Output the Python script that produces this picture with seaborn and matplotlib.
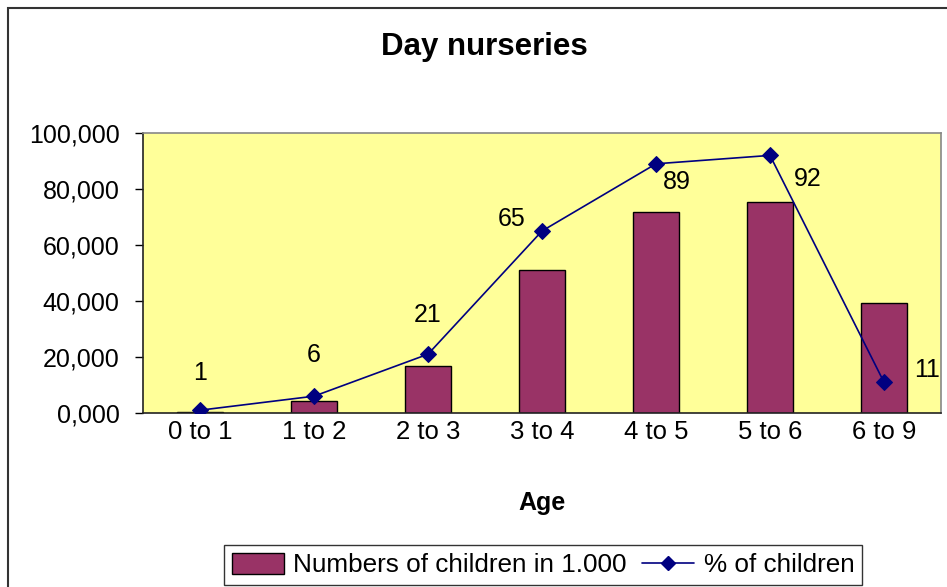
import matplotlib
matplotlib.use("Agg")
import matplotlib.pyplot as plt
import seaborn as sns
import numpy as np
import pandas as pd
from matplotlib.patches import Rectangle
from matplotlib.lines import Line2D
from matplotlib.patches import Patch

# ---- data ----
ages = ["0 to 1", "1 to 2", "2 to 3", "3 to 4", "4 to 5", "5 to 6", "6 to 9"]
children = [500, 4300, 16800, 51000, 71800, 75400, 39200]
pct_children = [1, 6, 21, 65, 89, 92, 11]
y_ticks = [0, 20000, 40000, 60000, 80000, 100000]
y_tick_labels = ["0,000", "20,000", "40,000", "60,000", "80,000", "100,000"]
title = "Day nurseries"
x_label = "Age"
bar_label = "Numbers of children in 1.000"
line_label = "% of children"

# label offsets (points) for data labels
label_offsets = [(0, 27), (0, 30), (0, 28), (-22, 9), (15, -13), (27, -17), (31, 9)]

sns.set_theme(style="white")
plt.rcParams['font.family'] = ['Liberation Sans', 'DejaVu Sans']

FS = 18
fig = plt.figure(figsize=(9.47, 5.87), dpi=100)
ax = fig.add_axes([143/947, 1-413/587, (941-143)/947, (413-133)/587])

df = pd.DataFrame({"Age": ages, "Children": children, "Pct": pct_children})

sns.barplot(data=df, x="Age", y="Children", ax=ax, color="#993366",
            saturation=1, width=0.41, edgecolor="black", linewidth=1.0)
ax.set_facecolor("#FFFF99")
ax.set_ylim(0, 100000)
ax.set_xlim(-0.5, len(ages) - 0.5)
ax.set_yticks(y_ticks)
ax.set_yticklabels(y_tick_labels, fontsize=FS, color="black")
ax.set_xticks(np.arange(len(ages)))
ax.set_xticklabels(ages, fontsize=FS + 0.5, color="black")
ax.set_xlabel(x_label, fontsize=FS, fontweight="bold", labelpad=34, color="black")
ax.set_ylabel("")
ax.tick_params(axis="x", length=0, pad=5)
ax.tick_params(axis="y", length=6, width=1, color="black", direction="out", pad=11)
# category boundary ticks
ax.set_xticks(np.arange(len(ages) + 1) - 0.5, minor=True)
ax.tick_params(axis="x", which="minor", length=7, width=1, color="#333333", direction="out")
ax.yaxis.set_ticks_position("left")
for s in ["left", "bottom"]:
    ax.spines[s].set_color("#222222")
    ax.spines[s].set_linewidth(1.2)
for s in ["top", "right"]:
    ax.spines[s].set_color("#888888")
    ax.spines[s].set_linewidth(1.2)

ax2 = ax.twinx()
sns.lineplot(x=np.arange(len(ages)), y=pct_children, ax=ax2, color="#000080",
             marker="D", markersize=8, markeredgecolor="#000080", linewidth=1.2)
ax2.set_ylim(0, 100)
ax2.set_yticks([])
ax2.set_ylabel("")
for s in ax2.spines.values():
    s.set_visible(False)

for i, (v, off) in enumerate(zip(pct_children, label_offsets)):
    ax2.annotate(str(v), (i, v), xytext=off, textcoords="offset points",
                 ha="center", va="center", fontsize=FS, color="black")

fig.text(484/947, 1 - 47/587, title, ha="center", va="center",
         fontsize=22.5, fontweight="bold", color="black")

handles = [Patch(facecolor="#993366", edgecolor="black", linewidth=1.0),
           Line2D([0], [0], color="#000080", marker="D", markersize=7, linewidth=1.2)]
leg = fig.legend(handles, [bar_label, line_label], loc="center",
                 bbox_to_anchor=(543/947, 1 - 565/587), ncol=2, fontsize=18.8,
                 frameon=True, fancybox=False, edgecolor="black", handlelength=2.0,
                 handleheight=0.85, handletextpad=0.35, columnspacing=0.6, borderpad=0.3)
leg.get_frame().set_linewidth(1.0)
for t in leg.get_texts():
    t.set_color("black")

# outer frame
fig.patches.append(Rectangle((8/947, -0.05), 1.0, 1 - 8/587 + 0.05, transform=fig.transFigure,
                             fill=False, edgecolor="#333333", linewidth=1.5))

fig.savefig("out.png", dpi=100)
